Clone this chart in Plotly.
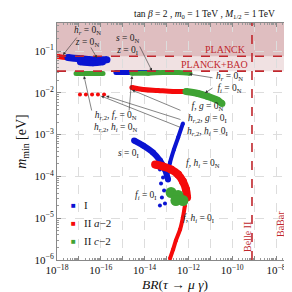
import plotly.graph_objects as go

# ---------------- data ----------------
# Model I (blue)
blue_cloud_br = [3.16e-18, 9.12e-18, 2.63e-17, 7.41e-17, 1.91e-16]
blue_cloud_m = [0.070, 0.066, 0.063, 0.062, 0.062]
blue_cloud2_br = [1.12e-17, 4.37e-17, 1.26e-16]
blue_cloud2_m = [0.054, 0.051, 0.054]
blue_band_br = [4.9e-16, 4.07e-14]
blue_band_m = [0.0306, 0.0306]
blue_arc_br = [3.31e-15, 8.51e-15, 2.4e-14, 5.01e-14, 8.51e-14, 1.17e-13]
blue_arc_m = [7.23e-4, 5.48e-4, 3.73e-4, 2.40e-4, 1.46e-4, 8.43e-5]
blue_line_br = [5.62e-13, 3.39e-13, 2.19e-13, 1.45e-13, 1.17e-13]
blue_line_m = [1.85e-3, 8.53e-4, 4.41e-4, 2.15e-4, 1.24e-4]
blue_dots_br = [5.01e-14, 6.92e-14, 5.62e-14, 7.76e-14, 6.17e-14, 8.51e-14, 5.01e-14]
blue_dots_m = [1.46e-4, 9.4e-5, 6.76e-5, 4.6e-5, 3.13e-5, 2.25e-5, 2.01e-5]

# Model IIa-2 (red)
red_top_br = [1.12e-18, 2.57e-18, 6.03e-18, 1.38e-17, 2.63e-17]
red_top_m = [0.074, 0.070, 0.070, 0.068, 0.066]
red_dots_br = [1.12e-17, 2.09e-17, 3.98e-17, 7.41e-17, 1.41e-16]
red_dots_m = [0.0091, 0.0091, 0.0091, 0.0091, 0.0091]
red_band_br = [2.63e-15, 8.51e-15, 4.07e-14, 2.0e-13, 9.55e-13]
red_band_m = [0.0134, 0.0120, 0.01135, 0.01074, 0.01074]
red_arc_br = [3.02e-14, 6.92e-14, 1.62e-13, 3.39e-13, 5.62e-13, 7.76e-13, 8.71e-13]
red_arc_m = [1.93e-4, 1.73e-4, 1.46e-4, 1.11e-4, 7.55e-5, 4.86e-5, 3.13e-5]
red_tail_br = [6.92e-13, 5.62e-13, 4.17e-13, 2.69e-13, 2.0e-13, 1.45e-13]
red_tail_m = [2.01e-5, 1.05e-5, 5.4e-6, 2.94e-6, 1.79e-6, 1.09e-6]

# Model IIc-2 (green)
green_left_br = [7.41e-18, 2.63e-17, 1.26e-16]
green_left_m = [0.029, 0.029, 0.029]
green_mid_br = [2.63e-15, 1.45e-14, 6.92e-14, 3.39e-13, 1.17e-12]
green_mid_m = [0.0295, 0.0295, 0.0306, 0.0306, 0.0295]
green_right_br = [7.76e-13, 2.75e-12, 7.76e-12, 2.24e-11, 3.39e-11]
green_right_m = [0.01074, 9.62e-3, 8.15e-3, 6.54e-3, 5.54e-3]
green_blob_br = [1.62e-13, 3.39e-13, 5.62e-13, 2.69e-13]
green_blob_m = [4.12e-5, 3.49e-5, 2.65e-5, 2.65e-5]

# experimental bounds
planck_m = 0.0746
planck_bao_m = 0.033
belle2_br = 8.0e-10
babar_br = 4.4e-8

x_tick_vals = [1e-18, 1e-17, 1e-16, 1e-15, 1e-14, 1e-13, 1e-12, 1e-11, 1e-10, 1e-9, 1e-8]
x_tick_text = ["10<sup>−18</sup>", "", "10<sup>−16</sup>", "", "10<sup>−14</sup>", "",
               "10<sup>−12</sup>", "", "10<sup>−10</sup>", "", "10<sup>−8</sup>"]
y_tick_vals = [1e-6, 1e-5, 1e-4, 1e-3, 1e-2, 1e-1]
y_tick_text = ["10<sup>−6</sup>", "10<sup>−5</sup>", "10<sup>−4</sup>", "10<sup>−3</sup>",
               "10<sup>−2</sup>", "10<sup>−1</sup>"]

BLUE = "#0a14d2"
RED = "#f50a0a"
GREEN = "#3fa334"
DRED = "#c0272d"
SERIF = "Liberation Serif"

fig = go.Figure()


def band(xs, ys, color, w):
    fig.add_trace(go.Scatter(x=xs, y=ys, mode="lines+markers",
                             line=dict(color=color, width=w, shape="spline"),
                             marker=dict(color=color, size=w, line=dict(width=0)),
                             showlegend=False, hoverinfo="skip"))


def dots(xs, ys, color, s):
    fig.add_trace(go.Scatter(x=xs, y=ys, mode="markers",
                             marker=dict(color=color, size=s, line=dict(width=0)),
                             showlegend=False, hoverinfo="skip"))


band(red_top_br, red_top_m, RED, 5)
band(blue_cloud_br, blue_cloud_m, BLUE, 7)
band(blue_cloud2_br, blue_cloud2_m, BLUE, 6)
dots(red_dots_br, red_dots_m, RED, 4)
band(red_band_br, red_band_m, RED, 5)
band(blue_band_br, blue_band_m, BLUE, 5)
band(green_left_br, green_left_m, GREEN, 5)
band(green_mid_br, green_mid_m, GREEN, 5)
band(green_right_br, green_right_m, GREEN, 7)
band(blue_arc_br, blue_arc_m, BLUE, 6)
band(blue_line_br, blue_line_m, BLUE, 4)
dots(blue_dots_br, blue_dots_m, BLUE, 4)
band(red_arc_br, red_arc_m, RED, 8)
band(red_tail_br, red_tail_m, RED, 4)
dots(green_blob_br, green_blob_m, GREEN, 11)

# ---------------- shapes: shaded exclusions and dashed bounds ----------------
shade = "rgba(150,40,50,0.14)"
shapes = [
    dict(type="rect", xref="x domain", yref="y", x0=0, x1=1, y0=planck_bao_m, y1=1,
         fillcolor=shade, line_width=0, layer="below"),
    dict(type="rect", xref="x domain", yref="y", x0=0, x1=1, y0=planck_m, y1=1,
         fillcolor="rgba(150,40,50,0.19)", line_width=0, layer="below"),
    dict(type="rect", xref="x", yref="y domain", x0=babar_br, x1=1, y0=0, y1=1,
         fillcolor=shade, line_width=0, layer="below"),
]
for yv in [planck_m, planck_bao_m]:
    shapes.append(dict(type="line", xref="x domain", yref="y", x0=0, x1=1, y0=yv, y1=yv,
                       line=dict(color=DRED, width=1.6, dash="dash"), layer="above"))
for xv in [belle2_br, babar_br]:
    shapes.append(dict(type="line", xref="x", yref="y domain", x0=xv, x1=xv, y0=0, y1=1,
                       line=dict(color=DRED, width=1.6, dash="dash"), layer="above"))

# ---------------- text labels ----------------
L, R, T, B = 49, 284, 15, 252


def px(xp, yp):
    return (xp - L) / (R - L), 1 - (yp - T) / (B - T)


ann = []


def label(text, xp, yp, size=9.5, color="#222", angle=0, xanchor="center"):
    x, y = px(xp, yp)
    ann.append(dict(text=text, x=x, y=y, xref="paper", yref="paper", showarrow=False,
                    font=dict(family=SERIF, size=size, color=color), textangle=angle,
                    xanchor=xanchor, yanchor="middle"))


def arrow(tail, tip):
    x, y = px(*tip)
    ann.append(dict(text="", x=x, y=y, xref="paper", yref="paper", showarrow=True,
                    ax=tail[0] - tip[0], ay=tail[1] - tip[1], arrowhead=2, arrowsize=1,
                    arrowwidth=0.6, arrowcolor="#333", standoff=0, startstandoff=0))


label("<i>h<sub>r</sub></i> = 0<sub>N</sub><br><i>z</i> = 0<sub>N</sub>", 79, 29)
label("<i>s</i> = 0<sub>N</sub><br><i>z</i> = 0<sub>I</sub>", 120, 36)
label("<i>h<sub>r</sub></i> = 0<sub>N</sub><br><i>f<sub>i</sub></i> = 0<sub>N</sub>", 221, 74)
label("<i>f</i>, <i>g</i> = 0<sub>N</sub><br><i>h</i><sub><i>r</i>,2</sub>, <i>g</i> = 0<sub>I</sub><br>"
      "<i>h</i><sub><i>r</i>,2</sub>, <i>h<sub>i</sub></i> = 0<sub>I</sub>", 177, 111, xanchor="left")
label("<i>h</i><sub><i>r</i>,2</sub>, <i>f<sub>r</sub></i> = 0<sub>N</sub><br>"
      "<i>h</i><sub><i>r</i>,2</sub>, <i>h<sub>i</sub></i> = 0<sub>N</sub>", 84, 113, xanchor="left")
label("<i>s</i> = 0<sub>I</sub>", 120, 145)
label("<i>f</i>, <i>h<sub>i</sub></i> = 0<sub>N</sub>", 195, 155)
label("<i>f<sub>i</sub></i> = 0<sub>I</sub>", 138, 187)
label("<i>f</i>, <i>h<sub>i</sub></i> = 0<sub>I</sub>", 190, 210)
label("PLANCK", 240, 42, size=10, color=DRED, xanchor="right")
label("PLANCK+BAO", 242, 56, size=10, color=DRED, xanchor="right")
label("Belle II", 239, 229, size=10, color=DRED, angle=-90)
label("BaBar", 272, 216, size=10, color=DRED, angle=-90)

arrow((70, 28), (55, 47))
arrow((82, 38), (89, 50))
arrow((131, 37), (144, 63))
arrow((206, 70), (181, 66))
arrow((206, 79), (197, 85))
arrow((84, 104), (76, 68))
arrow((121, 104), (124, 68))
arrow((174, 103), (124, 82))
arrow((174, 112), (98, 88))
arrow((174, 120), (93, 88))

# legend drawn as text
for i, (name, col) in enumerate([("I", BLUE), ("II <i>a</i>−2", RED), ("II <i>c</i>−2", GREEN)]):
    yy = 197 + 18 * i
    label("■", 65, yy, size=8, color=col)
    label(name, 74, yy, size=11, xanchor="left")

# axis title and header as text
label("<i>BR</i>(<i>τ</i> → <i>μ γ</i>)", 167, 276, size=13.5, color="#111")
label("tan <i>β</i> = 2 , <i>m</i><sub>0</sub> = 1 TeV , <i>M</i><sub>1/2</sub> = 1 TeV",
      196, 7, size=9.5, color="#111")

axis_common = dict(type="log", showline=True, linecolor="#888", linewidth=1, mirror="allticks",
                   ticks="inside", ticklen=4, tickcolor="#888",
                   showgrid=True, gridcolor="#dddddd", griddash="dash", gridwidth=0.8,
                   zeroline=False, tickfont=dict(family=SERIF, size=11, color="#111"),
                   minor=dict(ticks="inside", ticklen=2, tickcolor="#999", dtick="D1", showgrid=False))

fig.update_layout(
    width=292, height=292, margin=dict(l=L, r=292 - R, t=T, b=292 - B),
    paper_bgcolor="white", plot_bgcolor="white", showlegend=False,
    shapes=shapes, annotations=ann,
    xaxis=dict(axis_common, range=[-18, -7.27], tickmode="array", tickvals=x_tick_vals,
               ticktext=x_tick_text),
    yaxis=dict(axis_common, range=[-6, -0.33], tickmode="array", tickvals=y_tick_vals,
               ticktext=y_tick_text,
               title=dict(text="<i>m</i><sub>min</sub> [eV]", standoff=4,
                          font=dict(family=SERIF, size=14, color="#111"))),
)

fig.write_html("out.html")
